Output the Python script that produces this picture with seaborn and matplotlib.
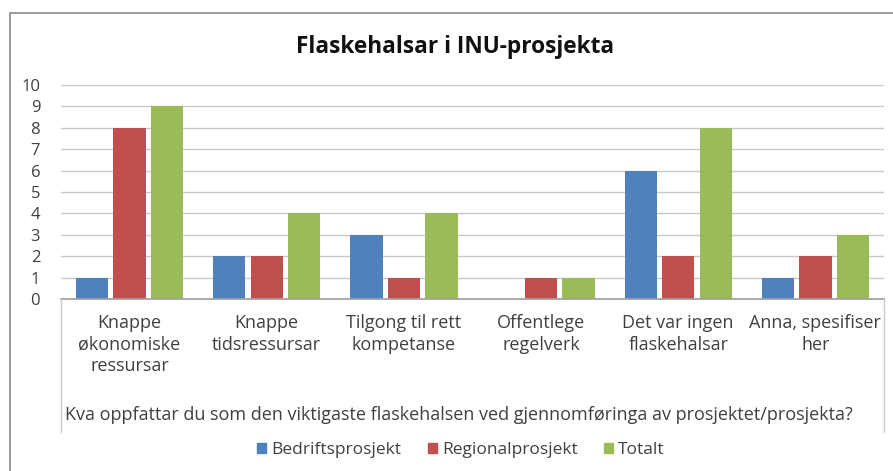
import pandas as pd
import matplotlib.pyplot as plt
import seaborn as sns
from matplotlib.patches import Rectangle
from matplotlib.lines import Line2D

# data
categories = ["Knappe\nøkonomiske\nressursar", "Knappe\ntidsressursar",
              "Tilgong til rett\nkompetanse", "Offentlege\nregelverk",
              "Det var ingen\nflaskehalsar", "Anna, spesifiser\nher"]
series = ["Bedriftsprosjekt", "Regionalprosjekt", "Totalt"]
bedrift = [1, 2, 3, 0, 6, 1]
regional = [8, 2, 1, 1, 2, 2]
totalt = [9, 4, 4, 1, 8, 3]
colors = ["#4F81BD", "#C0504D", "#9BBB59"]

df = pd.DataFrame({"kategori": categories * 3,
                   "serie": [s for s in series for _ in categories],
                   "verdi": bedrift + regional + totalt})

sns.set_theme(style="white")
plt.rcParams['font.family'] = ['Open Sans', 'DejaVu Sans']

fig = plt.figure(figsize=(8.93, 4.71), dpi=100)
ax = fig.add_axes([61/893, 1-299/471, 823/893, 214/471])

sns.barplot(data=df, x="kategori", y="verdi", hue="serie", palette=colors,
            width=0.82, gap=0.14, ax=ax, legend=False, saturation=1, linewidth=0)

ax.set_ylim(0, 10)
ax.set_xlim(-0.5, 5.5)
ax.set_yticks(range(0, 11))
ax.yaxis.grid(True, color="#c8c8c8", linewidth=1)
ax.set_axisbelow(True)
for s in ["top", "right", "left"]:
    ax.spines[s].set_visible(False)
ax.spines["bottom"].set_color("#a0a0a0")
ax.tick_params(axis="y", labelsize=12, colors="#404040", length=0, pad=15)
ax.tick_params(axis="x", labelsize=13, colors="#404040", length=0, pad=11)
for lbl in ax.get_xticklabels():
    lbl.set_linespacing(1.25)
ax.set_xlabel("")
ax.set_ylabel("")

# category area side lines and outer frame
fig.add_artist(Line2D([61/893, 61/893], [1-299/471, 1-432/471], color="#c8c8c8", lw=1))
fig.add_artist(Line2D([884/893, 884/893], [1-299/471, 1-432/471], color="#c8c8c8", lw=1))
fig.add_artist(Rectangle((10/893, -0.05), 1.0, 1-13/471+0.05, fill=False,
                         edgecolor="#8a8a8a", lw=1.2, transform=fig.transFigure))

fig.text(455/893, 1-47/471, "Flaskehalsar i INU-prosjekta", ha="center", va="center",
         fontsize=16.3, fontweight="bold", color="#111111")
fig.text(459/893, 1-415/471,
         "Kva oppfattar du som den viktigaste flaskehalsen ved gjennomføringa av prosjektet/prosjekta?",
         ha="center", va="center", fontsize=13, color="#404040")

handles = [Rectangle((0, 0), 1, 1, color=c) for c in colors]
fig.legend(handles, series, loc="center", bbox_to_anchor=(461/893, 1-450/471), ncol=3,
           frameon=False, fontsize=12.5, handlelength=0.5, handleheight=0.5,
           handletextpad=0.3, columnspacing=1.55, labelcolor="#404040")

fig.savefig("out.png", dpi=100)
